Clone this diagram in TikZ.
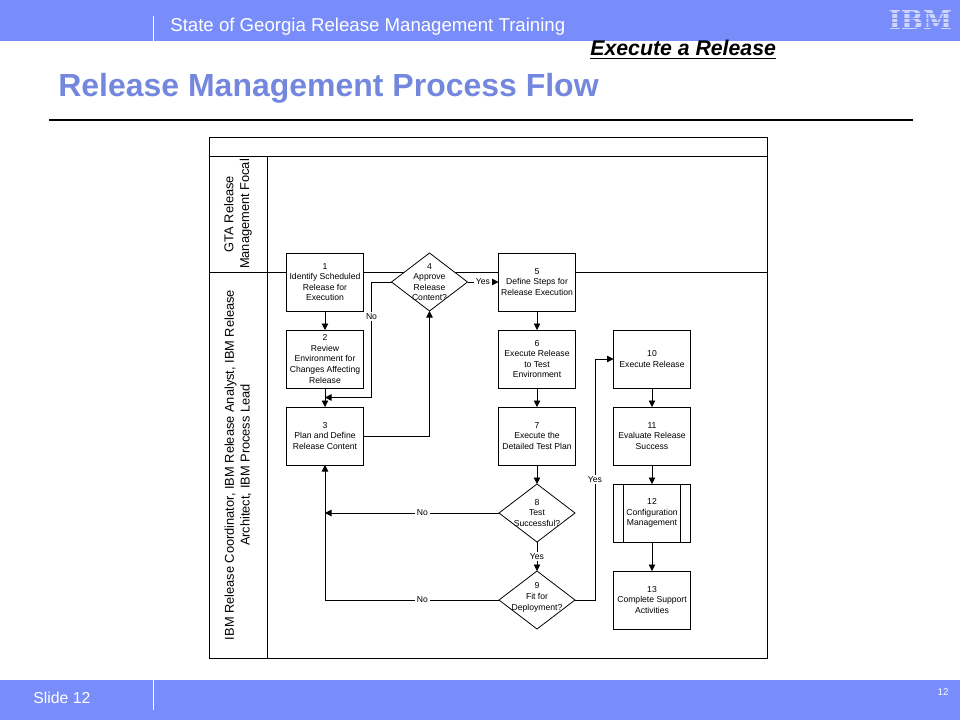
\documentclass[tikz,border=0pt]{standalone}
\usepackage{fontspec}
\setmainfont{Liberation Sans}
\newfontfamily\logofont{DejaVu Serif}
\usepackage{xcolor}
\usetikzlibrary{shapes.geometric, arrows.meta, positioning, calc}
\definecolor{band}{RGB}{120, 140, 250}
\definecolor{titleblue}{RGB}{116, 135, 222}
\definecolor{logo}{RGB}{205, 213, 250}
\tikzstyle{process}  = [rectangle, minimum width=1.54cm, minimum height=1.16cm, inner sep=0pt,
                        outer sep=0pt, align=center, draw=black, fill=white, line width=0.45pt,
                        font=\fontsize{4.9}{6}\selectfont]
\tikzstyle{decision} = [diamond, aspect=1.31, minimum width=1.52cm, minimum height=1.16cm,
                        inner sep=-12pt, outer sep=0pt, align=center, draw=black, fill=white,
                        line width=0.45pt, font=\fontsize{4.9}{6}\selectfont]
\tikzstyle{lane}     = [rectangle, inner sep=0pt, outer sep=0pt, draw=black, line width=0.45pt]
\tikzstyle{lanetext} = [rotate=90, align=center, inner sep=0pt, font=\fontsize{7.3}{9}\selectfont]
\tikzstyle{lbl}      = [fill=white, inner sep=1pt, font=\fontsize{4.9}{6}\selectfont]
\tikzstyle{bandbox}  = [rectangle, inner sep=0pt, outer sep=0pt, fill=band, minimum width=19.2cm]
\tikzstyle{arrow}    = [-{Triangle[length=1.3mm, width=1.3mm]}, line width=0.45pt]
\begin{document}
\begin{tikzpicture}
  \useasboundingbox (0,0) rectangle (19.2,-14.4);

  % Slide frame
  \node (top)    [bandbox, minimum height=0.82cm] at (9.6,-0.41) {};
  \node (bottom) [bandbox, minimum height=0.80cm] at (9.6,-14.00) {};
  \coordinate (rulestart) at (0.98,-2.40);
  \coordinate (ruleend)   at (18.26,-2.40);
  \coordinate (topdiv)    at (3.06,-0.32);
  \coordinate (botdiv)    at (3.06,-14.20);
  \draw [white, line width=0.5pt] (topdiv) -- (topdiv |- top.south);
  \draw [white, line width=0.5pt] (botdiv) -- (botdiv |- bottom.north);
  \draw [black, line width=1.7pt] (rulestart) -- (ruleend);
  \node (course) [anchor=west, inner sep=0pt, text=white, font=\fontsize{10.6}{12}\selectfont] at (3.40,-0.53)
                 {State of Georgia Release Management Training};
  \node (ibm)    [inner sep=0pt, text=logo, font=\logofont\fontsize{15}{15}\selectfont\bfseries] at (18.41,-0.40) {IBM};
  % Logo stripes
  \foreach \y in {-0.18,-0.27,-0.36,-0.45,-0.54,-0.63}
    \draw [band, line width=0.45pt] (ibm.west |- 0,\y) -- (ibm.east |- 0,\y);
  \node (sub)    [anchor=west, inner sep=0pt, font=\fontsize{12.1}{13}\selectfont\bfseries\itshape] at (11.80,-1.00)
                 {\underline{Execute a Release}};
  \node (title)  [anchor=west, inner sep=0pt, text=titleblue, font=\fontsize{18.2}{20}\selectfont\bfseries] at (1.16,-1.77)
                 {Release Management Process Flow};
  \node (slide)  [anchor=west, inner sep=0pt, text=white, font=\fontsize{9}{11}\selectfont] at (0.66,-13.96) {Slide 12};
  \node (page)   [inner sep=0pt, text=white, font=\fontsize{5.6}{7}\selectfont] at (18.86,-13.84) {12};

  % Lanes
  \node (head)  [lane, minimum width=11.16cm, minimum height=0.38cm] at (9.76,-2.93) {};
  \node (lab1)  [lane, minimum width=1.16cm, minimum height=2.32cm, below=0cm of head.south west, anchor=north west] {};
  \node (lab2)  [lane, minimum width=1.16cm, minimum height=7.72cm, below=0cm of lab1] {};
  \node (body1) [lane, minimum width=10.00cm, minimum height=2.32cm, right=0cm of lab1] {};
  \node (body2) [lane, minimum width=10.00cm, minimum height=7.72cm, right=0cm of lab2] {};
  \node (txt1)  [lanetext] at (lab1) {GTA Release\\Management Focal};
  \node (txt2)  [lanetext] at (lab2) {IBM Release Coordinator, IBM Release Analyst, IBM Release\\Architect, IBM Process Lead};

  % Left column
  \node (s1) [process] at (6.50,-5.64) {1\\Identify Scheduled\\Release for\\Execution};
  \node (s2) [process, below=0.38cm of s1] {2\\Review\\Environment for\\Changes Affecting\\Release};
  \node (s3) [process, below=0.38cm of s2] {3\\Plan and Define\\Release Content};
  \node (d4) [decision, right=0.56cm of s1] {4\\Approve\\Release\\Content?};

  % Middle column
  \node (s5) [process, right=0.62cm of d4] {5\\Define Steps for\\Release Execution};
  \node (s6) [process, below=0.38cm of s5] {6\\Execute Release\\to Test\\Environment};
  \node (s7) [process, below=0.38cm of s6] {7\\Execute the\\Detailed Test Plan};
  \node (d8) [decision, below=0.38cm of s7] {8\\Test\\Successful?};
  \node (d9) [decision, below=0.58cm of d8] {9\\Fit for\\Deployment?\\[-2pt]\mbox{}};

  % Right column
  \node (s10) [process, right=0.76cm of s6] {10\\Execute Release};
  \node (s11) [process, below=0.38cm of s10] {11\\Evaluate Release\\Success};
  \node (s12) [process, below=0.38cm of s11] {12\\Configuration\\Management};
  \node (s13) [process, below=0.58cm of s12] {13\\Complete Support\\Activities};
  \draw [line width=0.45pt] ([xshift=0.19cm]s12.north west) -- ([xshift=0.19cm]s12.south west);
  \draw [line width=0.45pt] ([xshift=-0.2cm]s12.north east) -- ([xshift=-0.2cm]s12.south east);

  \coordinate (bend4) at ($(d4.west)+(-0.40,0)$);
  \coordinate (join)  at ($(s2.south)!0.5!(s3.north)$);
  \coordinate (bend9) at ($(d9.east)+(0.40,0)$);

  \draw [arrow] (s1)  -- (s2);
  \draw [arrow] (s2)  -- (s3);
  \draw [arrow] (s3)  -| (d4);
  \draw [arrow] (d4.west) -- (bend4) -- node[lbl, pos=0.30] {No} (bend4 |- join) -- (join);
  \draw [arrow] (d4)  -- node[lbl, pos=0.5] {Yes} (s5);
  \draw [arrow] (s5)  -- (s6);
  \draw [arrow] (s6)  -- (s7);
  \draw [arrow] (s7)  -- (d8);
  \draw [arrow] (d8)  -- node[lbl] {Yes} (d9);
  \draw [arrow] (d8)  -- node[lbl, pos=0.44] {No} (d8 -| s3);
  \draw [arrow] (d9)  -| node[lbl, pos=0.22] {No} (s3);
  \draw [arrow] (d9.east) -- (bend9) -- node[lbl] {Yes} (bend9 |- s10) -- (s10);
  \draw [arrow] (s10) -- (s11);
  \draw [arrow] (s11) -- (s12);
  \draw [arrow] (s12) -- (s13);
\end{tikzpicture}
\end{document}
